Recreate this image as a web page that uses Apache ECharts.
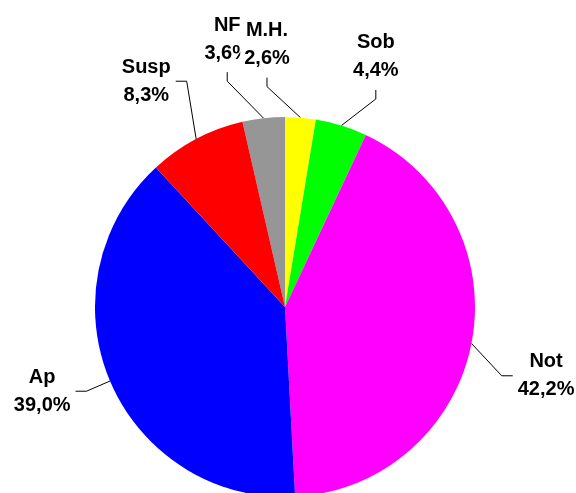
<!DOCTYPE html>
<html>
<head>
<meta charset="utf-8">
<script src="https://cdn.jsdelivr.net/npm/echarts@6/dist/echarts.min.js"></script>
<style>
  html, body { margin: 0; padding: 0; background: #fff; }
  #chart { width: 576px; height: 493px; }
</style>
</head>
<body>
<div id="chart"></div>
<script>
// slices clockwise, starting with NF just left of 12 o'clock
const categories = ['NF', 'M.H.', 'Sob', 'Not', 'Ap', 'Susp'];
const shares = [3.6, 2.6, 4.4, 42.2, 39.0, 8.3];
const colors = ['#969696', '#ffff00', '#00ff00', '#ff00ff', '#0000ff', '#ff0000'];

const cx = 285, cy = 307, R = 190;
const total = shares.reduce((a, b) => a + b, 0);
// NF ends exactly at the top
const startAngle = 90 + shares[0] / total * 360;

// excel-ish label placement: distance from centre + small angle nudge (deg)
const labelDist = [274, 263, 266, 270, 257, 265];
const labelNudge = [-5.7, -8.6, 2.7, 3.7, 3.8, -3.7];
const padX = 4;

function midAngle(i) {
  let before = 0;
  for (let k = 0; k < i; k++) before += shares[k];
  return (before + shares[i] / 2 - shares[0]) / total * 360; // clockwise from top
}

const chart = echarts.init(document.getElementById('chart'));

chart.setOption({
  animation: false,
  series: [
    {
      type: 'pie',
      center: [cx, cy],
      radius: R,
      startAngle: startAngle,
      clockwise: true,
      avoidLabelOverlap: false,
      data: categories.map((name, i) => ({
        name: name,
        value: shares[i],
        itemStyle: { color: colors[i] },
      })),
      label: {
        show: true,
        formatter: (p) => p.name + '\n' + p.value.toFixed(1).replace('.', ',') + '%',
        color: '#000',
        fontFamily: 'Liberation Sans, Arial, sans-serif',
        fontWeight: 'bold',
        fontSize: 20,
        lineHeight: 28,
        backgroundColor: '#fff',
        padding: [0, padX],
      },
      labelLine: {
        show: true,
        lineStyle: { color: '#000', width: 1 },
      },
      emphasis: { disabled: true },
      labelLayout: (params) => {
        const i = params.dataIndex;
        const mid = midAngle(i);
        const a = mid * Math.PI / 180;
        const la = (mid + labelNudge[i]) * Math.PI / 180;
        const ex = cx + R * Math.sin(a);
        const ey = cy - R * Math.cos(a);
        const lx = cx + labelDist[i] * Math.sin(la);
        const ly = cy - labelDist[i] * Math.cos(la);
        const w = params.labelRect.width - 2 * padX;
        const h = params.labelRect.height;
        const wrapped = ((mid + 180) % 360 + 360) % 360 - 180;
        let end, elbow;
        if (Math.abs(wrapped) < 25) {
          end = [lx, ly + h / 2 + 5];
          elbow = [lx, ly + h / 2 + 14];
        } else if (Math.sin(a) > 0) {
          end = [lx - w / 2 - 5, ly];
          elbow = [end[0] - 11, ly];
        } else {
          end = [lx + w / 2 + 5, ly];
          elbow = [end[0] + 11, ly];
        }
        return {
          x: lx,
          y: ly,
          align: 'center',
          verticalAlign: 'middle',
          labelLinePoints: [[ex, ey], elbow, end],
        };
      },
    },
  ],
});
</script>
</body>
</html>
